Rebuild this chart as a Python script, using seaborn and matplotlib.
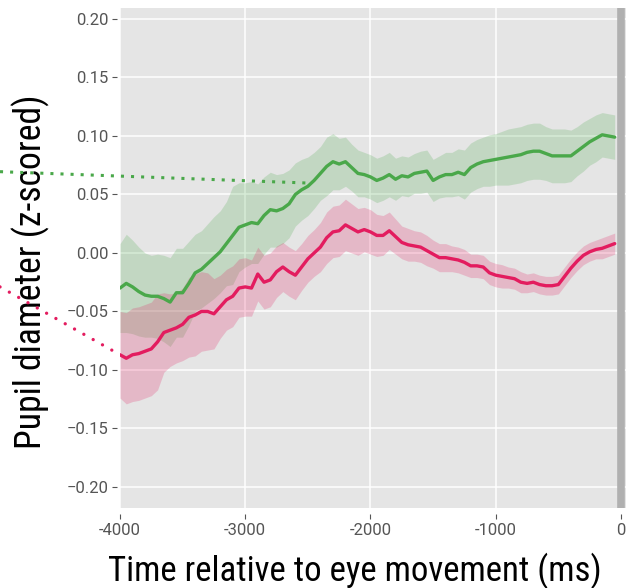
import numpy as np
import pandas as pd
import matplotlib
matplotlib.use("Agg")
import matplotlib.pyplot as plt
from matplotlib import font_manager
import seaborn as sns

# tiempo relativo al movimiento ocular (ms), cada 50 ms
time_ms = np.arange(-4000, 0, 50)

green_mean = [
    -0.030, -0.026, -0.029, -0.033, -0.036, -0.037, -0.037, -0.039, -0.042, -0.034,
    -0.034, -0.026, -0.017, -0.014, -0.009, -0.004, 0.001, 0.008, 0.015, 0.022,
    0.024, 0.026, 0.025, 0.032, 0.037, 0.036, 0.038, 0.042, 0.050, 0.054,
    0.057, 0.062, 0.068, 0.074, 0.078, 0.076, 0.078, 0.073, 0.068, 0.067,
    0.065, 0.062, 0.064, 0.067, 0.063, 0.066, 0.065, 0.068, 0.069, 0.070,
    0.062, 0.065, 0.067, 0.067, 0.069, 0.067, 0.073, 0.076, 0.078, 0.079,
    0.080, 0.081, 0.082, 0.083, 0.084, 0.086, 0.087, 0.087, 0.085, 0.083,
    0.083, 0.083, 0.083, 0.087, 0.091, 0.095, 0.098, 0.101, 0.100, 0.099,
]
green_ci = [
    0.038, 0.042, 0.040, 0.038, 0.036, 0.035, 0.036, 0.037, 0.038, 0.038,
    0.038, 0.036, 0.033, 0.033, 0.034, 0.035, 0.035, 0.036, 0.042, 0.038,
    0.036, 0.035, 0.034, 0.033, 0.032, 0.031, 0.030, 0.029, 0.027, 0.026,
    0.025, 0.024, 0.023, 0.025, 0.024, 0.022, 0.021, 0.020, 0.020, 0.019,
    0.019, 0.019, 0.019, 0.019, 0.018, 0.017, 0.017, 0.017, 0.018, 0.018,
    0.018, 0.018, 0.019, 0.019, 0.020, 0.021, 0.021, 0.021, 0.021, 0.022,
    0.022, 0.023, 0.024, 0.024, 0.024, 0.024, 0.024, 0.024, 0.023, 0.023,
    0.023, 0.023, 0.022, 0.021, 0.021, 0.020, 0.020, 0.019, 0.019, 0.019,
]
pink_mean = [
    -0.087, -0.090, -0.087, -0.086, -0.084, -0.082, -0.076, -0.068, -0.066, -0.064,
    -0.061, -0.055, -0.053, -0.050, -0.050, -0.052, -0.046, -0.040, -0.037, -0.030,
    -0.029, -0.030, -0.018, -0.025, -0.023, -0.016, -0.012, -0.016, -0.019, -0.012,
    -0.005, 0.000, 0.005, 0.013, 0.018, 0.019, 0.024, 0.021, 0.018, 0.020,
    0.018, 0.015, 0.015, 0.019, 0.014, 0.009, 0.007, 0.006, 0.005, 0.002,
    -0.001, -0.004, -0.004, -0.005, -0.006, -0.008, -0.011, -0.011, -0.012, -0.017,
    -0.019, -0.020, -0.021, -0.022, -0.025, -0.026, -0.025, -0.027, -0.028, -0.028,
    -0.027, -0.020, -0.013, -0.007, -0.002, 0.001, 0.003, 0.004, 0.006, 0.008,
]
pink_ci = [
    0.037, 0.039, 0.040, 0.040, 0.040, 0.040, 0.041, 0.034, 0.031, 0.030,
    0.031, 0.034, 0.035, 0.034, 0.033, 0.030, 0.027, 0.026, 0.026, 0.025,
    0.025, 0.024, 0.023, 0.023, 0.023, 0.022, 0.021, 0.021, 0.021, 0.020,
    0.020, 0.020, 0.021, 0.022, 0.022, 0.022, 0.022, 0.021, 0.020, 0.019,
    0.019, 0.018, 0.017, 0.016, 0.015, 0.014, 0.014, 0.013, 0.013, 0.013,
    0.012, 0.012, 0.012, 0.011, 0.011, 0.011, 0.010, 0.010, 0.010, 0.010,
    0.010, 0.010, 0.009, 0.009, 0.009, 0.008, 0.008, 0.008, 0.008, 0.008,
    0.008, 0.008, 0.008, 0.008, 0.008, 0.008, 0.008, 0.009, 0.009, 0.009,
]

# lineas punteadas que vienen de fuera del panel (x, y)
green_dots_x = [-4958, -2507]
green_dots_y = [0.0695, 0.0598]
pink_dots_x = [-4958, -4000]
pink_dots_y = [-0.029, -0.087]

x_ticks = [-4000, -3000, -2000, -1000, 0]
x_ticklabels = ["-4000", "-3000", "-2000", "-1000", "0"]
y_ticks = [-0.20, -0.15, -0.10, -0.05, 0.00, 0.05, 0.10, 0.15, 0.20]

green = "#4aa84a"
pink = "#e31c5f"

df = pd.concat([
    pd.DataFrame({"time": time_ms, "pupil": green_mean, "cond": "green"}),
    pd.DataFrame({"time": time_ms, "pupil": pink_mean, "cond": "pink"}),
])

sns.set_theme(style="darkgrid", rc={
    "axes.facecolor": "#e5e5e5",
    "grid.color": "white",
    "grid.linewidth": 1.1,
})
plt.rcParams["font.family"] = ["Roboto", "DejaVu Sans"]

# buscar una fuente condensada para los titulos de ejes
cond_font = None
prefs = ["Roboto Condensed", "Liberation Sans Narrow", "Noto Sans Condensed",
         "Open Sans Condensed", "DejaVu Sans Condensed"]
fonts = font_manager.fontManager.ttflist
for name in prefs:
    for f in fonts:
        if f.name == name and f.weight in (400, "normal", "regular") and f.style == "normal":
            cond_font = f.fname
            break
    if cond_font:
        break
if cond_font is None:
    for f in fonts:
        if ("condensed" in str(f.stretch) or "Narrow" in f.name) and f.style == "normal" \
                and f.weight in (400, "normal", "regular"):
            cond_font = f.fname
            break
if cond_font:
    lab_prop = font_manager.FontProperties(fname=cond_font)
else:
    lab_prop = font_manager.FontProperties(family=["Roboto", "DejaVu Sans"])

fig = plt.figure(figsize=(6.32, 5.88), dpi=100)
ax = fig.add_axes([120 / 632, 80 / 588, 506 / 632, 500 / 588])

ax.fill_between(time_ms, np.array(green_mean) - green_ci, np.array(green_mean) + green_ci,
                color=green, alpha=0.22, linewidth=0)
ax.fill_between(time_ms, np.array(pink_mean) - pink_ci, np.array(pink_mean) + pink_ci,
                color=pink, alpha=0.22, linewidth=0)
sns.lineplot(data=df, x="time", y="pupil", hue="cond",
             palette={"green": green, "pink": pink}, linewidth=2.4,
             legend=False, ax=ax)

ax.axvline(0, color="#b0b0b0", linewidth=5.5, zorder=0.8)

ax.plot(green_dots_x, green_dots_y, color=green, linewidth=2.2,
        linestyle=(0, (1, 2.3)), dash_capstyle="butt", clip_on=False)
ax.plot(pink_dots_x, pink_dots_y, color=pink, linewidth=2.4,
        linestyle=(0, (0.01, 3.2)), dash_capstyle="round", clip_on=False)

ax.set_xlim(-4000, 40)
ax.set_ylim(-0.218, 0.2094)
ax.set_xticks(x_ticks)
ax.set_xticklabels(x_ticklabels)
ax.set_yticks(y_ticks)
ax.yaxis.set_major_formatter(matplotlib.ticker.FuncFormatter(
    lambda v, p: f"{v:.2f}".replace("-", "\u2212")))

for s in ax.spines.values():
    s.set_visible(False)
ax.spines["bottom"].set_position(("outward", 4))
ax.spines["left"].set_position(("outward", 2))
ax.tick_params(axis="both", length=3.5, width=0.8, color="#555555",
               labelcolor="#555555", labelsize=12, pad=3)
ax.tick_params(axis="x", bottom=True)
ax.tick_params(axis="y", left=True)

xl = ax.set_xlabel("Time relative to eye movement (ms)", fontproperties=lab_prop,
                   fontsize=25, color="black")
yl = ax.set_ylabel("Pupil diameter (z-scored)", fontproperties=lab_prop,
                   fontsize=25, color="black")
ax.xaxis.set_label_coords(0.464, -0.09)
ax.yaxis.set_label_coords(-0.139, 0.472)

# ajustar el tamaño para que el ancho coincida con la figura original
fig.canvas.draw()
r = fig.canvas.get_renderer()
xw = xl.get_window_extent(r).width
xl.set_fontsize(25 * 495 / xw)
yh = yl.get_window_extent(r).height
yl.set_fontsize(25 * 355 / yh)

fig.savefig("out.png", dpi=100)
